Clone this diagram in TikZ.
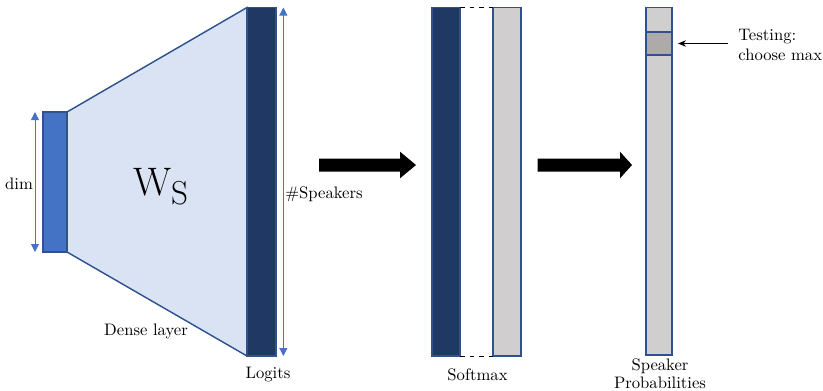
\documentclass[tikz,border=0pt]{standalone}
\usetikzlibrary{arrows.meta,backgrounds}
\definecolor{inblue}{HTML}{4472C4}
\definecolor{edgeblue}{HTML}{2F528F}
\definecolor{paleblue}{HTML}{DAE3F3}
\definecolor{navy}{HTML}{203864}
\definecolor{lgray}{HTML}{D0CECE}
\definecolor{mgray}{HTML}{AEAAAA}
\tikzset{
  px/.style={x=0.625pt,y=-0.625pt},
  bar/.style={draw=edgeblue,line width=0.75pt,inner sep=0pt,outer sep=0pt,
    minimum width=#1*0.625pt},
  dimarrow/.style={inblue,line width=0.6pt,{Triangle[length=5pt,width=5pt]}-{Triangle[length=5pt,width=5pt]}},
  bigarrow/.style={fill=black,draw=none},
  lbl/.style={inner sep=0pt,font=\fontsize{10.4}{12.5}\selectfont}
}
\begin{document}
\begin{tikzpicture}[px]
\useasboundingbox (0,0) rectangle (823,390);

% input vector and logits column
\node[bar=24,fill=inblue,minimum height=140*0.625pt] (inp) at (55,182) {};
\node[bar=29,fill=navy,minimum height=348.5*0.625pt] (logits) at (261.5,181.75) {};

% dense layer as a trapezoid behind the two columns
\begin{scope}[on background layer]
  \draw[edgeblue,line width=0.9pt,fill=paleblue]
    (inp.north east) -- (logits.north west) -- (logits.south west) -- (inp.south east) -- cycle;
\end{scope}

\node[inner sep=0pt] (ws) at (161,186) {\Huge$\mathrm{W_{S}}$};
\node[lbl] (dense) at (146,331) {Dense layer};

% dimension arrows
\draw[dimarrow] ([xshift=-5pt]inp.north west) -- ([xshift=-5pt]inp.south west);
\node[lbl] (dim) at (19,184) {dim};
\draw[dimarrow] ([xshift=4.6pt]logits.north east) -- ([xshift=4.6pt]logits.south east);
\node[lbl,anchor=west] (nspk) at (285,194) {\#Speakers};
\node[lbl] (logitslbl) at (268,375) {Logits};

% first block arrow
\fill[bigarrow] (319,158.5) -- (400,158.5) -- (400,151.7) -- (416,165)
  -- (400,178.3) -- (400,171.5) -- (319,171.5) -- cycle;

% softmax columns
\node[bar=28,fill=navy,minimum height=348.5*0.625pt] (smd) at (446,181.75) {};
\node[bar=28,fill=lgray,minimum height=348.5*0.625pt] (smg) at (507,181.75) {};
\draw[dashed,line width=0.4pt] (smd.north east) -- (smg.north west);
\draw[dashed,line width=0.4pt] (smd.south east) -- (smg.south west);
\node[lbl] (smlbl) at (477.5,375) {Softmax};

% second block arrow
\fill[bigarrow] (537.5,158.5) -- (620,158.5) -- (620,151.7) -- (632,165)
  -- (620,178.3) -- (620,171.5) -- (537.5,171.5) -- cycle;

% speaker probabilities
\node[bar=26,fill=lgray,minimum height=347.5*0.625pt] (prob) at (659,181.25) {};
\node[bar=26,fill=mgray,minimum height=23*0.625pt] (best) at (659,43.5) {};
\coordinate (tstart) at (728,43.5);
\draw[-{Stealth[length=5pt,width=4pt]},line width=0.5pt] (tstart) -- ([xshift=3.75pt]best.east);
\node[lbl,anchor=west,align=left] (test) at (738,44.5) {Testing:\\choose max};
\node[lbl,align=center] (problbl) at (660,374)
  {Speaker\\[-1pt]Probabilities};
\end{tikzpicture}
\end{document}
